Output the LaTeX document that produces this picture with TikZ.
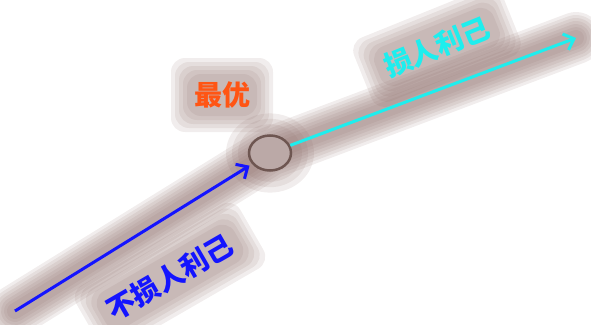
\documentclass[tikz,border=0pt]{standalone}
\usepackage{fontspec}
\newfontfamily\cjk{Noto Sans CJK SC}
\usetikzlibrary{arrows.meta,positioning,shapes.geometric}
\definecolor{halo}{RGB}{140,108,104}
\definecolor{optfill}{RGB}{187,169,167}
\definecolor{optline}{RGB}{110,86,81}
\definecolor{goodblue}{RGB}{20,20,255}
\definecolor{selfcyan}{RGB}{30,238,238}
\definecolor{bestred}{RGB}{255,85,20}
\tikzset{
    glowline/.style={draw=halo, line width=#1, opacity=0.12, line cap=round},
    glowbox/.style={fill=halo, opacity=0.12, rounded corners=14pt, inner sep=0pt},
    arrowline/.style={line width=3pt, -{Straight Barb[length=9pt,width=17pt]}},
    lbl/.style={font=\cjk\bfseries\fontsize{28}{30}\selectfont, inner sep=0pt}
}
\begin{document}
\begin{tikzpicture}[x=1pt,y=-1pt]
    \useasboundingbox (0,0) rectangle (591,324);
    \coordinate (bstart) at (15,311);
    \coordinate (cend) at (576,38);
    \coordinate (optc) at (270,153);

    % halo
    \foreach \w in {52,46,40,34,28,22,16}
        \draw[glowline=\w pt] (bstart) -- (optc) -- (cend);
    \foreach \r in {44,38,32}
        \fill[halo, opacity=0.12] (optc) ellipse (\r pt and 0.9*\r pt);
    \foreach \s in {44,36,28,20,12}
    {
        \node[glowbox, rotate=22, minimum width=116pt+\s pt, minimum height=30pt+\s pt] at (437,47) {};
        \node[glowbox, rotate=30, minimum width=145pt+\s pt, minimum height=30pt+\s pt] at (170,277) {};
        \node[glowbox, minimum width=58pt+\s pt, minimum height=30pt+\s pt] at (222,95) {};
    }

    \node[draw=optline, fill=optfill, line width=2.5pt, ellipse, minimum width=42pt, minimum height=35pt, inner sep=0pt] (opt) at (optc) {};

    \node[lbl, text=selfcyan, rotate=22] (harm) at (437,47) {损人利己};
    \node[lbl, text=goodblue, rotate=30] (noharm) at (170,277) {不损人利己};
    \node[lbl, text=bestred] (best) at (222,95) {最优};

    \draw[arrowline, goodblue, shorten >=3pt] (bstart) -- (opt);
    \draw[arrowline, selfcyan] (opt) -- (cend);
\end{tikzpicture}
\end{document}
